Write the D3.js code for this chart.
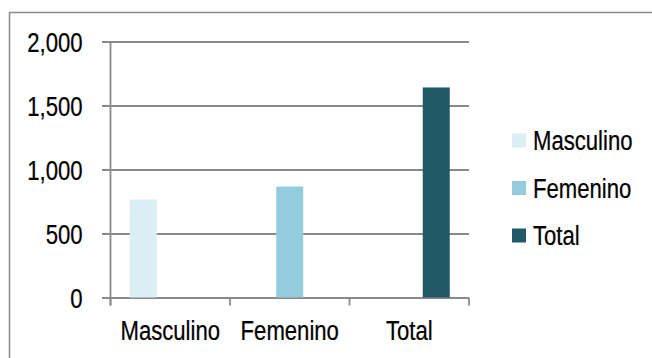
<!DOCTYPE html>
<html>
<head>
<meta charset="utf-8">
<script src="https://cdn.jsdelivr.net/npm/d3@7"></script>
<style>
  html, body { margin: 0; padding: 0; background: #fff; }
  svg { display: block; }
  text { font-family: "Liberation Sans", Arial, sans-serif; font-size: 28px; fill: #000; stroke: #000; stroke-width: 0.25px; }
</style>
</head>
<body>
<svg id="chart" width="652" height="358"></svg>
<script>
// Population by sex
const categories = ["Masculino", "Femenino", "Total"];
const series = ["Masculino", "Femenino", "Total"];
const values = [766, 867, 1641];
const colors = ["#DAEEF3", "#93CDDD", "#215968"];
const yTicks = [0, 500, 1000, 1500, 2000];

const svg = d3.select("#chart");
const gridColor = "#8a8a8a";

// outer chart border
svg.append("rect")
  .attr("x", 9.5).attr("y", 12.5)
  .attr("width", 700).attr("height", 400)
  .attr("fill", "none").attr("stroke", gridColor).attr("stroke-width", 1.5);

const plot = { left: 110.5, right: 469, top: 41.5, bottom: 297.5 };

const x = d3.scaleBand().domain(categories).range([plot.left, plot.right]).padding(0);
const xs = d3.scaleBand().domain(series).range([0, x.bandwidth()]).paddingInner(0).paddingOuter(0.713);
const y = d3.scaleLinear().domain([0, 2000]).range([plot.bottom, plot.top]);

// horizontal gridlines with left tick stubs
const yAxis = d3.axisLeft(y).tickValues(yTicks).tickFormat(d3.format(","))
  .tickSize(-(plot.right - plot.left)).tickPadding(0);
const gy = svg.append("g").attr("transform", `translate(${plot.left},0)`).call(yAxis);
gy.select(".domain").remove();
gy.selectAll(".tick line").attr("stroke", gridColor).attr("stroke-width", 1.8).attr("x1", -8.5);
gy.selectAll(".tick text")
  .attr("x", -28).attr("dy", "0.35em")
  .attr("fill", "#000").style("font-size", null).style("font-family", null);

// bars
svg.append("g").selectAll("rect")
  .data(series.map((s, i) => ({ s, cat: categories[i], v: values[i], c: colors[i] })))
  .join("rect")
  .attr("x", d => x(d.cat) + xs(d.s))
  .attr("width", xs.bandwidth())
  .attr("y", d => y(d.v))
  .attr("height", d => y(0) - y(d.v))
  .attr("fill", d => d.c);

// vertical axis line
svg.append("line")
  .attr("x1", plot.left).attr("x2", plot.left)
  .attr("y1", plot.top).attr("y2", plot.bottom + 8)
  .attr("stroke", gridColor).attr("stroke-width", 1.8);

// category axis with boundary ticks
const xAxis = d3.axisBottom(x).tickSize(0).tickPadding(0);
const gx = svg.append("g").attr("transform", `translate(0,${plot.bottom})`).call(xAxis);
gx.select(".domain").remove();
gx.selectAll(".tick text")
  .attr("y", 43).attr("dy", 0)
  .attr("fill", "#000").style("font-size", null).style("font-family", null);
const bounds = categories.map(c => x(c)).concat([plot.right]);
svg.append("g").selectAll("line").data(bounds).join("line")
  .attr("x1", d => d).attr("x2", d => d)
  .attr("y1", plot.bottom).attr("y2", plot.bottom + 8)
  .attr("stroke", gridColor).attr("stroke-width", 1.8);

// legend
const legend = svg.append("g").selectAll("g")
  .data(series.map((s, i) => ({ s, c: colors[i] })))
  .join("g")
  .attr("transform", (d, i) => `translate(512,${140.5 + i * 47.5})`);
legend.append("rect")
  .attr("x", 0).attr("y", -7).attr("width", 14).attr("height", 14)
  .attr("fill", d => d.c);
legend.append("text")
  .attr("x", 21).attr("dy", "0.35em")
  .text(d => d.s);

// narrow the typeface horizontally (condensed look)
const squeeze = 0.79;
svg.selectAll("text").each(function () {
  const x0 = +(this.getAttribute("x") || 0);
  this.setAttribute("x", (x0 / squeeze).toFixed(2));
  this.setAttribute("transform", `scale(${squeeze},1)`);
});
</script>
</body>
</html>
